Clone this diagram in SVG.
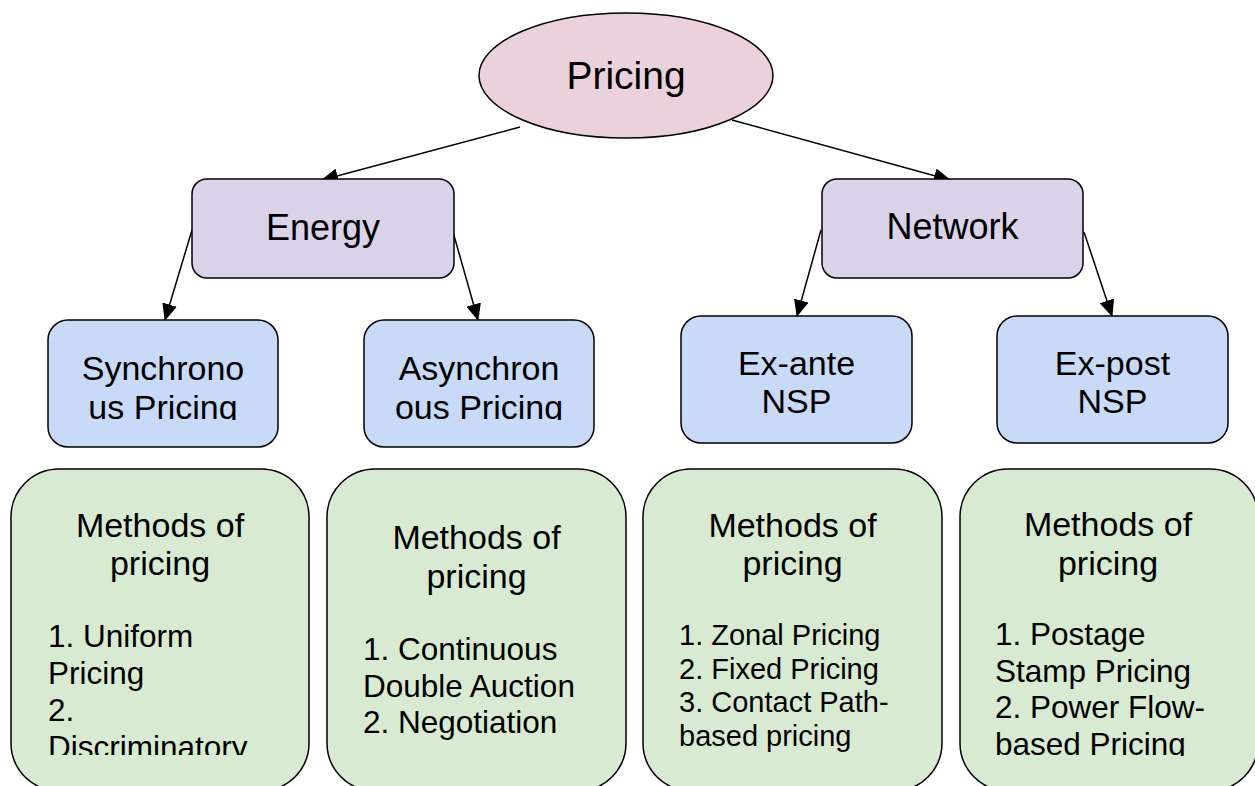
<svg xmlns="http://www.w3.org/2000/svg" width="1255" height="786" viewBox="0 0 1255 786">
  <defs>
    <style>
      text { font-family: "Liberation Sans", Arial, sans-serif; fill: #000; }
      .root { fill: #ead1dc; stroke: #000; stroke-width: 1.5; }
      .mid { fill: #d9d2e9; stroke: #000; stroke-width: 1.5; }
      .sub { fill: #c9daf8; stroke: #000; stroke-width: 1.5; }
      .meth { fill: #d9ead3; stroke: #000; stroke-width: 1.5; }
      .edge { stroke: #000; stroke-width: 1.5; fill: none; marker-end: url(#arrow); }
      .t39 { font-size: 39px; text-anchor: middle; }
      .t36 { font-size: 36px; text-anchor: middle; }
      .t34 { font-size: 34px; text-anchor: middle; }
      .head { font-size: 34px; text-anchor: middle; }
      .list { font-size: 31.5px; }
      .list3 { font-size: 29px; }
    </style>
    <marker id="arrow" markerUnits="userSpaceOnUse" markerWidth="17" markerHeight="15" viewBox="0 0 17 15" refX="16" refY="7.5" orient="auto">
      <path d="M0,0 L17,7.5 L0,15 z" fill="#000"/>
    </marker>
    <clipPath id="clipSync" clipPathUnits="userSpaceOnUse"><rect x="40" y="330" width="570" height="90"/></clipPath>
    <clipPath id="clipM1" clipPathUnits="userSpaceOnUse"><rect x="11" y="469" width="298" height="286"/></clipPath>
    <clipPath id="clipM4" clipPathUnits="userSpaceOnUse"><rect x="960" y="469" width="298" height="287"/></clipPath>
  </defs>

  <g id="connectors">
    <line class="edge" x1="520" y1="127" x2="322" y2="180"/>
    <line class="edge" x1="732" y1="120" x2="950" y2="180"/>
    <line class="edge" x1="192" y1="230" x2="165" y2="320"/>
    <line class="edge" x1="453" y1="232" x2="478" y2="320"/>
    <line class="edge" x1="821" y1="230" x2="797" y2="316"/>
    <line class="edge" x1="1084" y1="232" x2="1112" y2="316"/>
  </g>

  <g id="pricing">
    <ellipse class="root" cx="626" cy="75.5" rx="147" ry="62.5"/>
    <text class="t39" x="626" y="89">Pricing</text>
  </g>

  <g id="energy">
    <rect class="mid" x="192" y="179" width="262" height="99" rx="15"/>
    <text class="t36" x="323" y="240">Energy</text>
  </g>

  <g id="network">
    <rect class="mid" x="822" y="179" width="261" height="99" rx="15"/>
    <text class="t36" x="952.5" y="239">Network</text>
  </g>

  <g id="synchronous">
    <rect class="sub" x="48" y="320" width="230" height="127" rx="20"/>
    <g clip-path="url(#clipSync)">
      <text class="t34" x="163" y="380">Synchrono</text>
      <text class="t34" x="163" y="419">us Pricing</text>
    </g>
  </g>

  <g id="asynchronous">
    <rect class="sub" x="364" y="320" width="230" height="127" rx="20"/>
    <g clip-path="url(#clipSync)">
      <text class="t34" x="479" y="380">Asynchron</text>
      <text class="t34" x="479" y="419">ous Pricing</text>
    </g>
  </g>

  <g id="exante">
    <rect class="sub" x="681" y="316" width="231" height="127" rx="20"/>
    <text class="t34" x="796.5" y="375">Ex-ante</text>
    <text class="t34" x="796.5" y="413">NSP</text>
  </g>

  <g id="expost">
    <rect class="sub" x="997" y="316" width="231" height="127" rx="20"/>
    <text class="t34" x="1112.5" y="375">Ex-post</text>
    <text class="t34" x="1112.5" y="413">NSP</text>
  </g>

  <g id="methods-sync">
    <rect class="meth" x="11" y="469" width="298" height="322" rx="48"/>
    <text class="head" x="160" y="537">Methods of</text>
    <text class="head" x="160" y="575">pricing</text>
    <g clip-path="url(#clipM1)">
      <text class="list" x="48" y="647">1. Uniform</text>
      <text class="list" x="48" y="684">Pricing</text>
      <text class="list" x="48" y="721">2.</text>
      <text class="list" x="48" y="758">Discriminatory</text>
    </g>
  </g>

  <g id="methods-async">
    <rect class="meth" x="327" y="469" width="299" height="322" rx="48"/>
    <text class="head" x="476.5" y="549">Methods of</text>
    <text class="head" x="476.5" y="588">pricing</text>
    <text class="list" x="363" y="660">1. Continuous</text>
    <text class="list" x="363" y="697">Double Auction</text>
    <text class="list" x="363" y="733">2. Negotiation</text>
  </g>

  <g id="methods-exante">
    <rect class="meth" x="643" y="469" width="299" height="322" rx="48"/>
    <text class="head" x="792.5" y="537">Methods of</text>
    <text class="head" x="792.5" y="575">pricing</text>
    <text class="list3" x="679" y="645">1. Zonal Pricing</text>
    <text class="list3" x="679" y="679">2. Fixed Pricing</text>
    <text class="list3" x="679" y="712">3. Contact Path-</text>
    <text class="list3" x="679" y="746">based pricing</text>
  </g>

  <g id="methods-expost">
    <rect class="meth" x="960" y="469" width="298" height="322" rx="48"/>
    <text class="head" x="1108" y="536">Methods of</text>
    <text class="head" x="1108" y="575">pricing</text>
    <g clip-path="url(#clipM4)">
      <text class="list" x="995" y="645">1. Postage</text>
      <text class="list" x="995" y="682">Stamp Pricing</text>
      <text class="list" x="995" y="718">2. Power Flow-</text>
      <text class="list" x="995" y="755">based Pricing</text>
    </g>
  </g>
</svg>
